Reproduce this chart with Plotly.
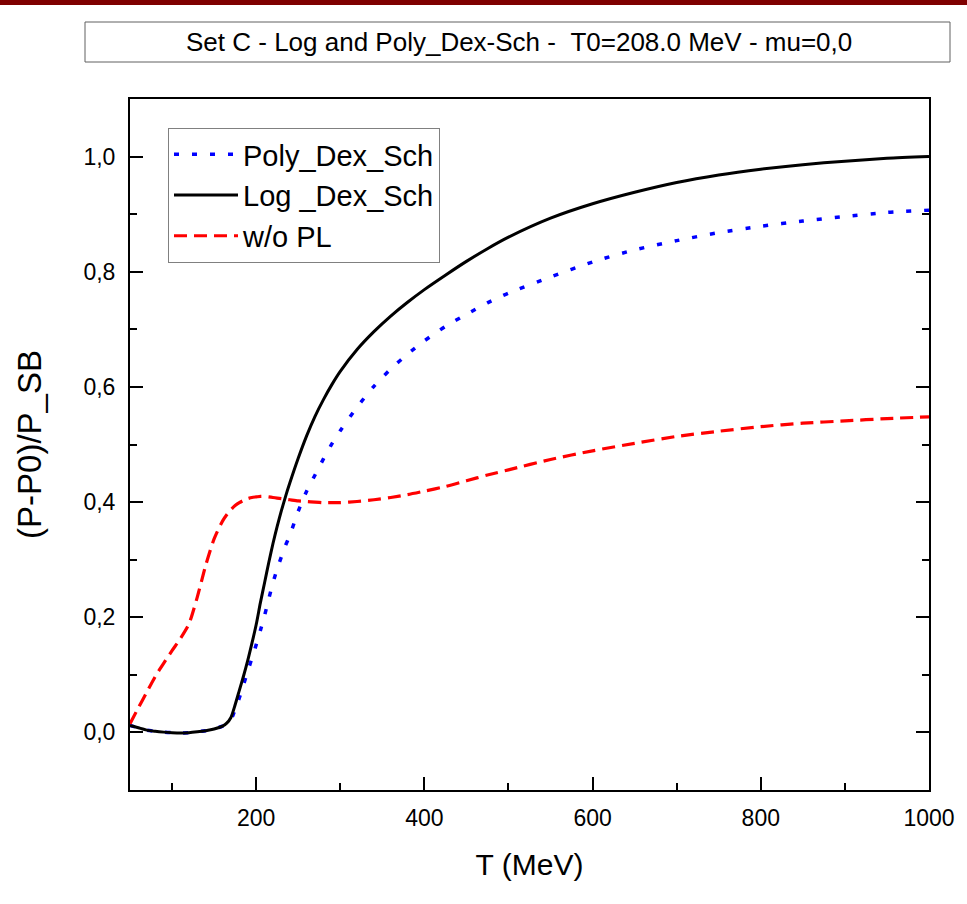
import plotly.graph_objects as go

# ---------------- data ----------------
T = [50, 60, 70, 80, 90, 100, 110, 120, 130, 140, 150, 160,
     165, 170, 175, 180, 185, 190, 195, 200, 205, 210, 215, 220, 225, 230, 235, 240,
     250, 260, 270, 280, 290, 300,
     320, 340, 360, 380, 400,
     425, 450, 475, 500,
     550, 600, 650, 700, 750, 800, 850, 900, 950, 1000]

log_dex_sch = [0.012, 0.008, 0.004, 0.002, 0.0005, -0.0005, -0.001, -0.0005, 0.001, 0.003, 0.006, 0.011,
               0.016, 0.026, 0.048, 0.073, 0.098, 0.125, 0.155, 0.187, 0.225, 0.260, 0.295, 0.328, 0.358, 0.385, 0.410, 0.433,
               0.476, 0.515, 0.549, 0.578, 0.604, 0.627,
               0.665, 0.696, 0.723, 0.747, 0.769,
               0.794, 0.818, 0.840, 0.860,
               0.893, 0.918, 0.938, 0.955, 0.968, 0.978, 0.986, 0.992, 0.997, 1.000]

poly_dex_sch = [0.012, 0.008, 0.004, 0.002, 0.0005, -0.0005, -0.001, -0.0005, 0.001, 0.003, 0.006, 0.011,
                0.015, 0.022, 0.040, 0.060, 0.083, 0.106, 0.129, 0.152, 0.177, 0.203, 0.232, 0.260, 0.284, 0.305, 0.325, 0.342,
                0.384, 0.419, 0.447, 0.475, 0.501, 0.524,
                0.565, 0.601, 0.631, 0.657, 0.680,
                0.705, 0.726, 0.746, 0.763,
                0.791, 0.817, 0.838, 0.854, 0.868, 0.879, 0.888, 0.896, 0.903, 0.907]

wo_pl = [0.015, 0.043, 0.070, 0.097, 0.120, 0.142, 0.163, 0.188, 0.235, 0.290, 0.336, 0.367,
         0.378, 0.387, 0.394, 0.399, 0.403, 0.406, 0.408, 0.409, 0.410, 0.410, 0.409, 0.408, 0.407, 0.406, 0.405, 0.404,
         0.402, 0.401, 0.400, 0.399, 0.399, 0.399,
         0.401, 0.404, 0.408, 0.413, 0.419,
         0.427, 0.437, 0.447, 0.456,
         0.474, 0.489, 0.502, 0.514, 0.523, 0.531, 0.537, 0.541, 0.545, 0.548]

series_names = ["Poly_Dex_Sch", "Log _Dex_Sch", "w/o PL"]
title_text = "Set C - Log and Poly_Dex-Sch - \u00a0T0=208.0 MeV - mu=0,0"
x_title = "T (MeV)"
y_title = "(P-P0)/P_SB"

FONT = "Liberation Sans, Arial, sans-serif"

fig = go.Figure()
fig.add_trace(go.Scatter(x=T, y=poly_dex_sch, name=series_names[0], mode="lines",
                         line=dict(color="#0000ff", width=3.5, dash="5px,13px", shape="spline", smoothing=0.7)))
fig.add_trace(go.Scatter(x=T, y=log_dex_sch, name=series_names[1], mode="lines",
                         line=dict(color="#000000", width=3, shape="spline", smoothing=0.7)))
fig.add_trace(go.Scatter(x=T, y=wo_pl, name=series_names[2], mode="lines",
                         line=dict(color="#ff0000", width=3.2, dash="13px,7px", shape="spline", smoothing=0.7)))

W, H = 967, 904
L, R, TOP, B = 130, 929, 99, 790
pw, ph = R - L, B - TOP


def px(x):
    return (x - L) / pw


def py(y):
    return (B - y) / ph


fig.update_layout(
    width=W, height=H,
    margin=dict(l=L, r=W - R, t=TOP, b=H - B),
    paper_bgcolor="white", plot_bgcolor="white",
    separators=", ",
    showlegend=True,
    legend=dict(x=px(168), y=py(128), xanchor="left", yanchor="top",
                bgcolor="white", bordercolor="#808080", borderwidth=1,
                font=dict(family=FONT, size=29, color="black"),
                itemwidth=64, tracegroupgap=0),
    shapes=[
        dict(type="rect", xref="paper", yref="paper",
             x0=px(0), x1=px(W), y0=py(5), y1=py(0),
             fillcolor="#7f0000", line=dict(width=0), layer="above"),
        dict(type="rect", xref="paper", yref="paper",
             x0=px(85), x1=px(950), y0=py(62), y1=py(22),
             fillcolor="white", line=dict(color="#606060", width=1)),
    ],
    annotations=[
        dict(text=title_text, xref="paper", yref="paper",
             x=px(519), y=py(42), xanchor="center", yanchor="middle",
             showarrow=False, font=dict(family=FONT, size=26, color="black")),
    ],
)

fig.update_xaxes(
    range=[50, 1000], tick0=0, dtick=200,
    showline=True, linecolor="black", linewidth=2, mirror=True,
    ticks="inside", ticklen=13, tickwidth=2, tickcolor="black",
    minor=dict(dtick=100, tick0=0, ticks="inside", ticklen=7, tickwidth=2, tickcolor="black"),
    showgrid=False, zeroline=False,
    tickfont=dict(family=FONT, size=23, color="black"),
    ticklabelstandoff=6,
    title=dict(text=x_title, font=dict(family=FONT, size=30, color="black"), standoff=24),
)
fig.update_yaxes(
    range=[-0.1, 1.1], tick0=0, dtick=0.2, tickformat=".1f",
    showline=True, linecolor="black", linewidth=2, mirror="ticks",
    ticks="inside", ticklen=13, tickwidth=2, tickcolor="black",
    minor=dict(dtick=0.1, tick0=0, ticks="inside", ticklen=7, tickwidth=2, tickcolor="black"),
    showgrid=False, zeroline=False,
    tickfont=dict(family=FONT, size=23, color="black"),
    ticklabelstandoff=8,
    title=dict(text=y_title, font=dict(family=FONT, size=33, color="black"), standoff=32),
)

fig.write_html("out.html")
